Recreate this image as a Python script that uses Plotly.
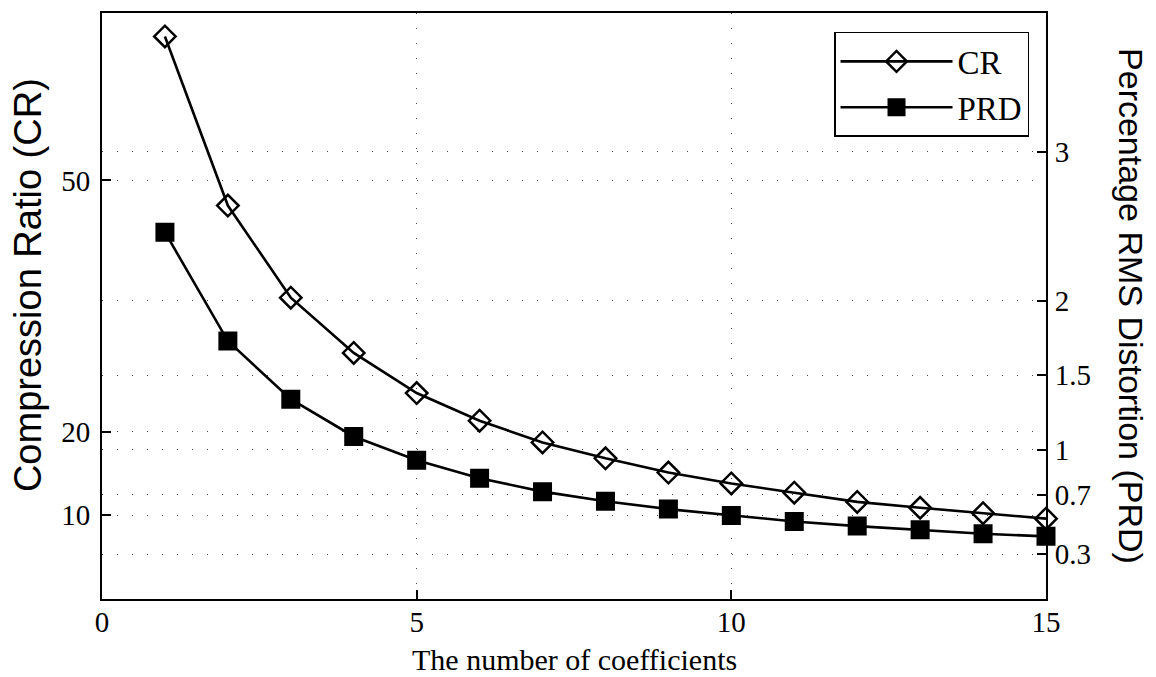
import plotly.graph_objects as go

# ---- data ----
n_coeff = [1, 2, 3, 4, 5, 6, 7, 8, 9, 10, 11, 12, 13, 14, 15]
cr_values = [67.2, 47.0, 36.0, 29.4, 24.6, 21.3, 18.7, 16.8, 15.1, 13.8, 12.7, 11.6, 10.9, 10.25, 9.6]
prd_values = [2.46, 1.73, 1.34, 1.09, 0.93, 0.81, 0.72, 0.656, 0.603, 0.56, 0.52, 0.489, 0.465, 0.438, 0.42]

x_ticks = [0, 5, 10, 15]
cr_ticks = [10, 20, 50]
prd_ticks = [0.3, 0.7, 1, 1.5, 2, 3]
prd_tick_text = ["0.3", "0.7", "1", "1.5", "2", "3"]

x_title = "The number of coefficients"
y_title = "Compression Ratio (CR)"
y2_title = "Percentage RMS Distortion (PRD)"

SERIF = "Liberation Serif, Times New Roman, serif"
SANS = "Liberation Sans, Arial, Helvetica, sans-serif"
GRID_DASH = "1px,14px"

fig = go.Figure()
fig.add_trace(go.Scatter(
    x=n_coeff, y=cr_values, name="CR", mode="lines+markers",
    line=dict(color="black", width=2.6),
    marker=dict(symbol="diamond-open", size=16.5, color="black",
                line=dict(color="black", width=2.5)),
    cliponaxis=False, yaxis="y"))
fig.add_trace(go.Scatter(
    x=n_coeff, y=prd_values, name="PRD", mode="lines+markers",
    line=dict(color="black", width=2.6),
    marker=dict(symbol="square", size=17, color="black",
                line=dict(color="black", width=2)),
    cliponaxis=False, yaxis="y2"))

axis_common = dict(
    showline=True, linecolor="black", linewidth=2,
    ticks="inside", ticklen=9, tickwidth=1.5, tickcolor="black",
    showgrid=True, gridcolor="#444", gridwidth=1, griddash=GRID_DASH,
    zeroline=False, tickfont=dict(family=SERIF, size=29, color="black"),
)

fig.update_layout(
    width=1156, height=677,
    margin=dict(l=102, r=110, t=11, b=78),
    paper_bgcolor="white", plot_bgcolor="white",
    showlegend=True,
    xaxis=dict(range=[0, 15], tickvals=x_ticks, mirror=True,
               ticklabelstandoff=-4, **axis_common),
    yaxis=dict(range=[0, 70], tickvals=cr_ticks, ticklabelstandoff=4,
               **axis_common),
    yaxis2=dict(range=[0, 3.93], tickvals=prd_ticks, ticktext=prd_tick_text,
                overlaying="y", side="right", ticklabelstandoff=1,
                **axis_common),
    legend=dict(x=0.982, y=0.9677, xanchor="right", yanchor="top",
                bgcolor="white", bordercolor="black", borderwidth=1.5,
                font=dict(family=SERIF, size=33, color="black"),
                itemwidth=112, entrywidth=200, entrywidthmode="pixels",
                tracegroupgap=0),
    annotations=[
        dict(text=x_title, xref="paper", yref="paper", x=0.5, y=-0.1037,
             xanchor="center", yanchor="middle", showarrow=False,
             font=dict(family=SERIF, size=30, color="black")),
        dict(text=y_title, xref="paper", yref="paper", x=-0.0784, y=0.5357,
             xanchor="center", yanchor="middle", textangle=-90, showarrow=False,
             font=dict(family=SANS, size=38, color="black")),
        dict(text=y2_title, xref="paper", yref="paper", x=1.090, y=0.5,
             xanchor="center", yanchor="middle", textangle=90, showarrow=False,
             font=dict(family=SANS, size=34, color="black")),
    ],
)

fig.write_html("out.html")
